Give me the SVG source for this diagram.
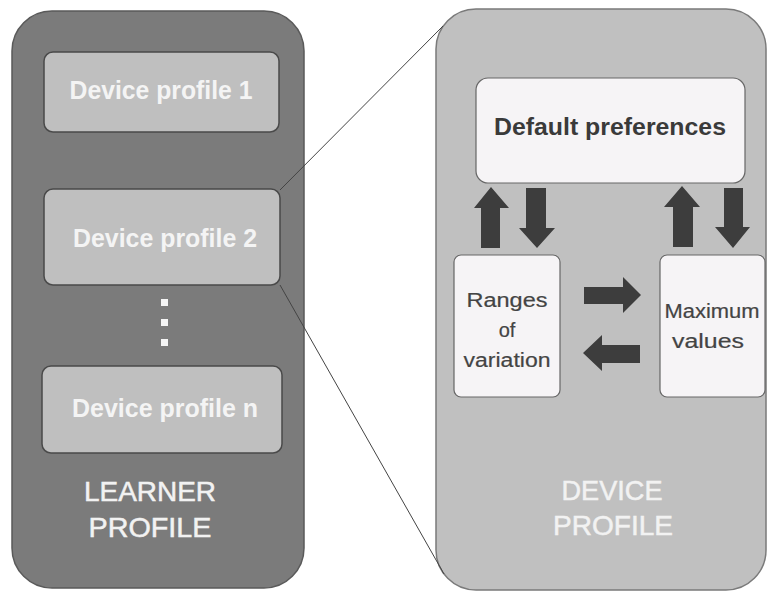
<svg xmlns="http://www.w3.org/2000/svg" width="767" height="592" viewBox="0 0 767 592">
<style>
.dp{fill:#bfbfbf;stroke:#4a4a4a;stroke-width:1.5}
.dpt{font-family:"Liberation Sans",Arial,sans-serif;font-weight:bold;font-size:26px;fill:#f4f4f4;text-anchor:middle}
.wb{fill:#f6f4f6;stroke:#666;stroke-width:1.2}
.wt{font-family:"Liberation Sans",Arial,sans-serif;font-size:20px;fill:#444;text-anchor:middle;stroke:#444;stroke-width:0.2}
.big{font-family:"Liberation Sans",Arial,sans-serif;font-size:28px;fill:#f2f2f2;stroke:#f2f2f2;stroke-width:0.5;text-anchor:middle}
.arr{fill:#3d3d3d}
.ln{stroke:#444;stroke-width:1;fill:none}
</style>
<rect width="767" height="592" fill="#ffffff"/>
<g id="learner-profile">
<rect x="12" y="11" width="292" height="577" rx="40" ry="40" fill="#7b7b7b" stroke="#5a5a5a" stroke-width="1.5"/>
<text class="big" x="150" y="501" textLength="132" lengthAdjust="spacingAndGlyphs">LEARNER</text>
<text class="big" x="150" y="537" textLength="123" lengthAdjust="spacingAndGlyphs">PROFILE</text>
</g>
<g id="device-profile-1">
<rect class="dp" x="44" y="52" width="235" height="80" rx="9" ry="9"/>
<text class="dpt" x="161" y="99" textLength="183" lengthAdjust="spacingAndGlyphs">Device profile 1</text>
</g>
<g id="device-profile-2">
<rect class="dp" x="44" y="189" width="236" height="96" rx="9" ry="9"/>
<text class="dpt" x="165" y="247" textLength="184" lengthAdjust="spacingAndGlyphs">Device profile 2</text>
</g>
<g id="ellipsis" fill="#f4f4f4">
<rect x="161" y="299" width="7" height="7"/>
<rect x="161" y="319" width="7" height="7"/>
<rect x="161" y="339" width="7" height="7"/>
</g>
<g id="device-profile-n">
<rect class="dp" x="42" y="366" width="240" height="87" rx="9" ry="9"/>
<text class="dpt" x="165" y="417" textLength="186" lengthAdjust="spacingAndGlyphs">Device profile n</text>
</g>
<g id="device-profile">
<rect x="436" y="9" width="330" height="581" rx="40" ry="40" fill="#c0c0c0" stroke="#7a7a7a" stroke-width="1.5"/>
<text class="big" x="612" y="500" textLength="101" lengthAdjust="spacingAndGlyphs">DEVICE</text>
<text class="big" x="613" y="535" textLength="120" lengthAdjust="spacingAndGlyphs">PROFILE</text>
</g>
<g id="default-preferences">
<rect class="wb" x="476" y="78" width="269" height="105" rx="12" ry="12"/>
<text x="610" y="135" font-family="'Liberation Sans',Arial,sans-serif" font-weight="bold" font-size="23" fill="#3a3a3a" text-anchor="middle" textLength="232" lengthAdjust="spacingAndGlyphs">Default preferences</text>
</g>
<g id="ranges-of-variation">
<rect class="wb" x="454" y="255" width="106" height="142" rx="7" ry="7"/>
<text class="wt" x="507" y="307" textLength="81" lengthAdjust="spacingAndGlyphs">Ranges</text>
<text class="wt" x="507" y="337">of</text>
<text class="wt" x="507" y="367" textLength="87" lengthAdjust="spacingAndGlyphs">variation</text>
</g>
<g id="maximum-values">
<rect class="wb" x="660" y="255" width="105" height="142" rx="7" ry="7"/>
<text class="wt" x="712" y="318" textLength="95" lengthAdjust="spacingAndGlyphs">Maximum</text>
<text class="wt" x="708" y="348" textLength="72" lengthAdjust="spacingAndGlyphs">values</text>
</g>
<g id="connectors">
<line class="ln" x1="280" y1="190" x2="443" y2="26"/>
<line class="ln" x1="280" y1="285" x2="444" y2="574"/>
<polygon class="arr" points="481,248 500,248 500,208 509,208 491,187 474,208 481,208"/>
<polygon class="arr" points="526,188 546,188 546,228 555,228 537,248 519,228 526,228"/>
<polygon class="arr" points="673,247 693,247 693,207 700,207 682,186 664,207 673,207"/>
<polygon class="arr" points="724,188 743,188 743,227 750,227 733,248 715,227 724,227"/>
<polygon class="arr" points="584,287 623,287 623,277 641,295 623,313 623,304 584,304"/>
<polygon class="arr" points="640,345 602,345 602,335 583,353 602,371 602,363 640,363"/>
</g>
</svg>
